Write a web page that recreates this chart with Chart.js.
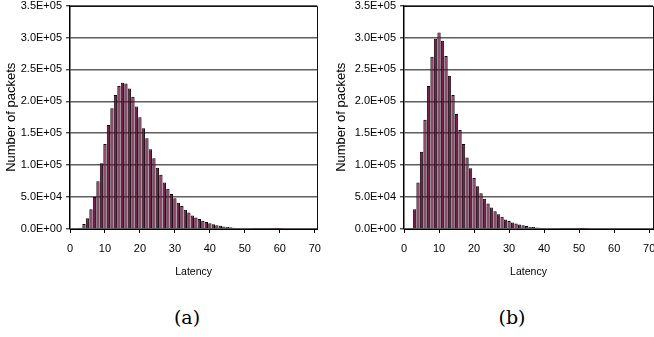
<!DOCTYPE html>
<html>
<head>
<meta charset="utf-8">
<script src="https://cdn.jsdelivr.net/npm/chart.js@4/dist/chart.umd.min.js"></script>
<style>
  html, body { margin: 0; padding: 0; background: #fff; width: 654px; height: 337px; overflow: hidden; }
  .box { position: absolute; top: -5px; height: 295px; }
  #boxA { left: 0; width: 330px; }
  #boxB { left: 330px; width: 340px; }
  .cap { position: absolute; top: 305px; width: 60px; text-align: center; font-family: "DejaVu Serif", serif; font-size: 19px; color: #000; line-height: 24px; }
</style>
</head>
<body>
<div class="box" id="boxA"><canvas id="chartA" width="330" height="295"></canvas></div>
<div class="box" id="boxB"><canvas id="chartB" width="340" height="295"></canvas></div>
<div class="cap" style="left:157px">(a)</div>
<div class="cap" style="left:482px">(b)</div>
<script>
// ---- data ----
const latencyA = [3,4,5,6,7,8,9,10,11,12,13,14,15,16,17,18,19,20,21,22,23,24,25,26,27,28,29,30,31,32,33,34,35,36,37,38,39,40,41,42,43,44,45,46,47,48,49,50,51,52,53,54,55,56,57,58,59,60];
const packetsA = [2000,8000,17000,31000,50000,75000,103000,133000,163000,189000,210000,224000,229000,228000,220000,207000,192000,175000,158000,142000,125000,111000,96000,85000,73000,63000,55000,48000,41000,36000,30000,26000,21000,18000,15500,13000,11000,9000,7500,6000,5000,4000,3200,2600,2000,1600,1300,1000,800,650,500,400,300,250,200,150,120,100];
const latencyB = [3,4,5,6,7,8,9,10,11,12,13,14,15,16,17,18,19,20,21,22,23,24,25,26,27,28,29,30,31,32,33,34,35,36,37,38,39,40,41,42,43,44,45,46,47,48,49,50,51,52];
const packetsB = [31000,73000,121000,171000,224000,270000,298000,308000,295000,271000,240000,210000,180000,155000,133000,112000,95000,80000,67000,56000,47500,40000,33500,28000,23000,19000,15000,12500,10000,8500,7000,5800,4700,3700,3000,2500,2000,1600,1300,1000,800,650,500,400,300,250,200,150,120,100];
const xTicks = [0,10,20,30,40,50,60,70];
const yTicks = [0,50000,100000,150000,200000,250000,300000,350000];
const xTitle = 'Latency';
const yTitle = 'Number of packets';

function sci(v) {
  if (v === 0) return '0.0E+00';
  const e = Math.floor(Math.log10(v) + 1e-9);
  const m = v / Math.pow(10, e);
  return m.toFixed(1) + 'E+' + String(e).padStart(2, '0');
}

const frame = {
  id: 'frame',
  afterDraw(chart) {
    const {ctx, chartArea: a} = chart;
    ctx.save();
    ctx.strokeStyle = '#111';
    ctx.lineWidth = 1;
    ctx.beginPath();
    ctx.moveTo(Math.round(a.left) , Math.round(a.top) + 0.5);
    ctx.lineTo(Math.round(a.right) + 0.5, Math.round(a.top) + 0.5);
    ctx.lineTo(Math.round(a.right) + 0.5, Math.round(a.bottom));
    ctx.stroke();
    ctx.restore();
  }
};

function makeChart(id, xs, ys, yWidth, xMax, padRight) {
  const font = {family: 'Liberation Sans, Arial, sans-serif', size: 11};
  return new Chart(document.getElementById(id), {
    type: 'bar',
    data: {
      datasets: [{
        data: xs.map((x, i) => ({x: x, y: ys[i]})),
        backgroundColor: '#7d1d4d',
        borderColor: '#0e0007',
        borderWidth: {top: 1, left: 1, right: 1, bottom: 0},
        borderSkipped: false,
        categoryPercentage: 1,
        barPercentage: 0.95
      }]
    },
    options: {
      responsive: false,
      animation: false,
      events: [],
      layout: {padding: {top: 0, right: padRight, bottom: 0, left: 0}},
      plugins: {legend: {display: false}, tooltip: {enabled: false}},
      scales: {
        x: {
          type: 'linear',
          offset: false,
          min: 0,
          max: xMax,
          afterBuildTicks: s => { s.ticks = xTicks.map(v => ({value: v})); },
          afterFit: s => { s.height = 61; },
          ticks: {font: font, color: '#000', padding: 9, maxRotation: 0, autoSkip: false},
          grid: {offset: false, drawOnChartArea: false, drawTicks: true, tickLength: 4, tickColor: '#000', tickWidth: 1},
          border: {display: true, color: '#000', width: 1},
          title: {display: true, text: xTitle, color: '#000', font: {family: 'Liberation Sans, Arial, sans-serif', size: 10.5}, padding: {top: 0, bottom: 12}}
        },
        y: {
          min: 0,
          max: 350000,
          afterBuildTicks: s => { s.ticks = yTicks.map(v => ({value: v})); },
          afterFit: s => { s.width = yWidth; },
          ticks: {font: font, color: '#000', padding: 4, callback: v => sci(v)},
          grid: {color: '#5e5e5e', lineWidth: 1.6, drawTicks: true, tickLength: 4, tickColor: '#000', tickWidth: 1},
          border: {display: true, color: '#000', width: 1.5},
          title: {display: true, text: yTitle, color: '#000', font: {family: 'Liberation Sans, Arial, sans-serif', size: 13}, padding: {top: 4, bottom: 0}}
        }
      }
    },
    plugins: [frame]
  });
}

makeChart('chartA', latencyA, packetsA, 70, 70.7, 12);
makeChart('chartB', latencyB, packetsB, 74, 71.1, 17);
</script>
</body>
</html>
